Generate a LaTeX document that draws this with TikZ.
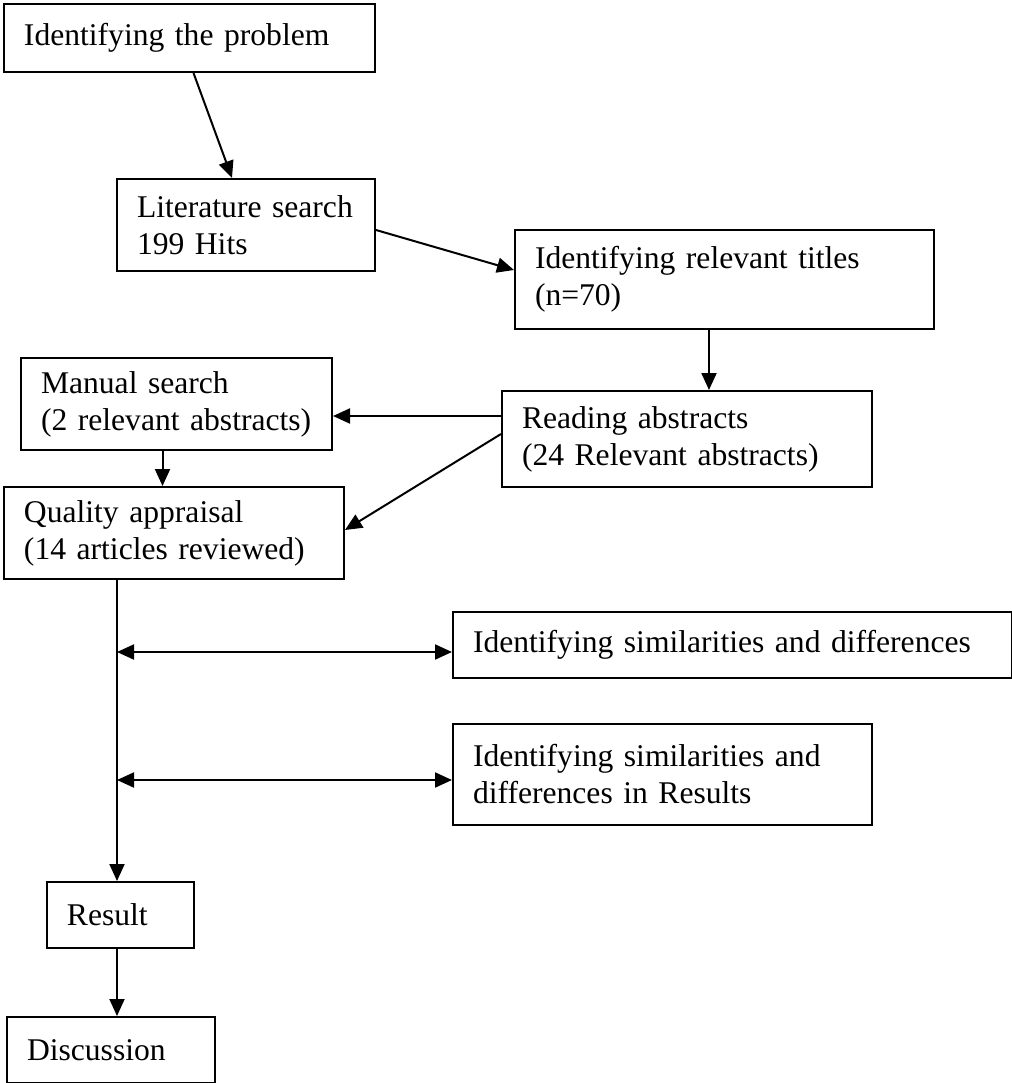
\documentclass[tikz,border=0pt]{standalone}
\usepackage{fontspec}
\setmainfont{Liberation Serif}
\usetikzlibrary{arrows.meta,calc}
\tikzset{
  box/.style={draw=black,line width=1pt,anchor=north west,align=left,inner xsep=10pt,inner ysep=2pt,font=\fontsize{15.8}{18.5}\selectfont,execute at begin node={\hyphenpenalty=10000\relax}},
  ar/.style={-{Triangle[length=8.5pt,width=7.5pt]},draw=black,line width=1pt},
  dar/.style={{Triangle[length=8.5pt,width=7.5pt]}-{Triangle[length=8.5pt,width=7.5pt]},draw=black,line width=1pt},
}
\begin{document}
\begin{tikzpicture}[x=0.5pt,y=-0.5pt]
    \useasboundingbox (0,0) rectangle (1012,1083);
    \node[box,text width=165.5pt,minimum height=34pt] (prob) at (3,3) {Identifying the problem};
    \node[box,text width=109pt,minimum height=46pt] (lit) at (116,178) {Literature search\\199 Hits};
    \node[box,text width=189.5pt,minimum height=49.5pt] (titles) at (514,229) {Identifying relevant titles\\(n=70)};
    \node[box,text width=165pt,minimum height=48pt] (abst) at (501,390) {Reading abstracts\\(24 Relevant abstracts)};
    \node[box,text width=135.5pt,minimum height=46pt] (manual) at (20,357) {Manual search\\(2 relevant abstracts)};
    \node[box,text width=150pt,minimum height=46pt] (qual) at (3,486) {Quality appraisal\\(14 articles reviewed)};
    \node[box,text width=259.5pt,minimum height=33pt] (simdiff) at (452,611) {Identifying similarities and differences};
    \node[box,text width=189.5pt,minimum height=50.5pt] (simres) at (452,723) {Identifying similarities and\\differences in Results};
    \node[box,text width=53.5pt,minimum height=33pt] (res) at (46,881) {Result};
    \node[box,text width=84pt,minimum height=33pt] (disc) at (6,1016) {Discussion};
    \coordinate (spine) at ([xshift=-28.5pt]qual.south);
    \draw[ar]([xshift=2pt]prob.south)--([xshift=-7pt]lit.north);
    \draw[ar]([yshift=-2.5pt]lit.east)--([yshift=4.75pt]titles.west);
    \draw[ar]([xshift=-7.75pt]titles.south)--([xshift=11pt]abst.north);
    \draw[ar]([yshift=11.5pt]abst.west)--([yshift=11.5pt]abst.west -| manual.east);
    \draw[ar]([yshift=2.5pt]abst.west)--([yshift=1.5pt]qual.east);
    \draw[ar]([xshift=-7pt]manual.south)--([xshift=-7pt]manual.south |- qual.north);
    \draw[ar](spine)--(spine |- res.north);
    \draw[dar]([yshift=-3.5pt]simdiff.west -| spine)--([yshift=-3.5pt]simdiff.west);
    \draw[dar]([yshift=-2.75pt]simres.west -| spine)--([yshift=-2.75pt]simres.west);
    \draw[ar](spine |- res.south)--(spine |- disc.north);
\end{tikzpicture}
\end{document}
